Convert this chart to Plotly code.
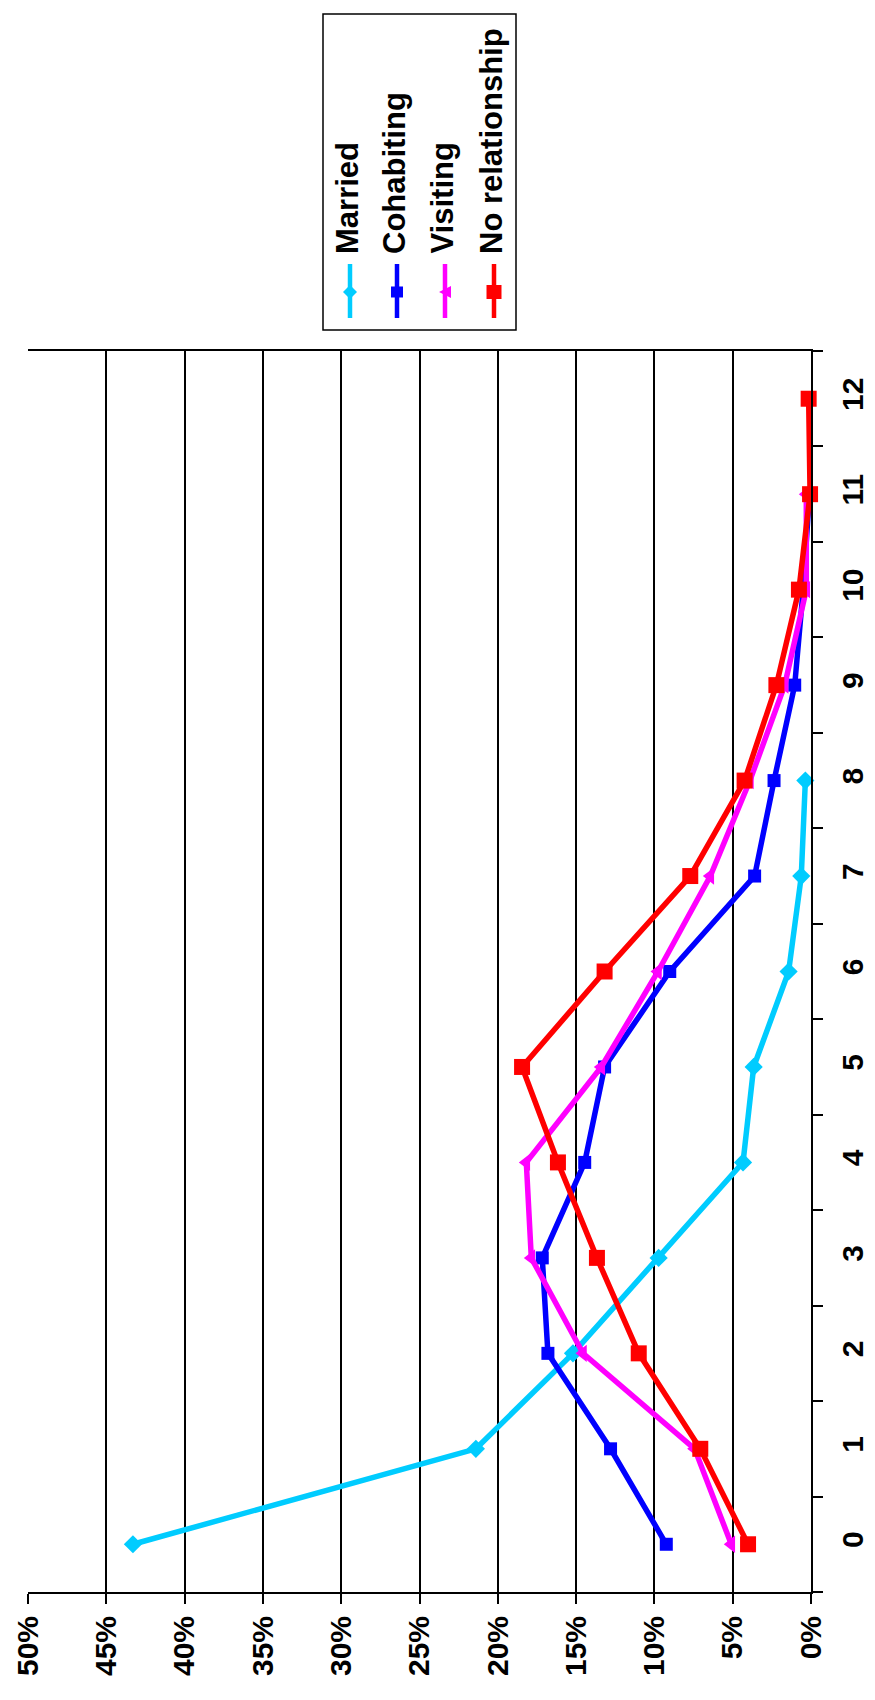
import plotly.graph_objects as go

categories = [str(i) for i in range(13)]
married = [43.3, 21.4, 15.2, 9.73, 4.34, 3.66, 1.43, 0.62, 0.36]
cohabiting = [9.24, 12.8, 16.8, 17.16, 14.45, 13.18, 9.02, 3.6, 2.36, 1.04, 0.5, 0.1]
visiting = [5.09, 7.43, 14.56, 17.86, 18.18, 13.39, 9.77, 6.43, 3.9, 1.68, 0.3, 0.3]
no_relationship = [4.02, 7.07, 11.0, 13.67, 16.16, 18.45, 13.18, 7.71, 4.24, 2.21, 0.77, 0.06, 0.15]
pct_ticks = [0, 5, 10, 15, 20, 25, 30, 35, 40, 45, 50]

series_names = ["Married", "Cohabiting", "Visiting", "No relationship"]
series_values = [married, cohabiting, visiting, no_relationship]
colors = ["#00CCFF", "#0000FF", "#FF00FF", "#FF0000"]
symbols = ["diamond", "square", "triangle-left", "square"]
msizes = [14, 13, 15, 16]

W, H = 875, 1700
FONT = "Liberation Sans, Arial, sans-serif"


def px(x):
    return x / W


def py(y):
    return 1 - y / H


fig = go.Figure()
for name, vals, c, s, ms in zip(series_names, series_values, colors, symbols, msizes):
    fig.add_trace(go.Scatter(
        x=vals, y=categories[:len(vals)], name=name, mode="lines+markers",
        line=dict(color=c, width=5.5),
        marker=dict(symbol=s, size=ms, color=c, line=dict(width=0)),
        cliponaxis=False, showlegend=False,
    ))

# Legend drawn manually (rotated text)
shapes = [dict(type="rect", xref="paper", yref="paper",
               x0=px(315), x1=px(508), y0=py(6), y1=py(322),
               line=dict(color="black", width=1.5), fillcolor="white", layer="above")]
annotations = []
leg_x = [342, 389, 437, 486]
for lx, name, c, s in zip(leg_x, series_names, colors, symbols):
    shapes.append(dict(type="line", xref="paper", yref="paper",
                       x0=px(lx), x1=px(lx), y0=py(256), y1=py(310),
                       line=dict(color=c, width=4.5), layer="above"))
    cy = 284
    if s == "diamond":
        pts = [(lx, cy - 7), (lx + 7, cy), (lx, cy + 7), (lx - 7, cy)]
    elif s == "triangle-left":
        pts = [(lx - 6, cy), (lx + 6, cy - 6), (lx + 6, cy + 6)]
    elif name == "No relationship":
        pts = [(lx - 7.5, cy - 7), (lx + 7.5, cy - 7), (lx + 7.5, cy + 7), (lx - 7.5, cy + 7)]
    else:
        pts = [(lx - 6, cy - 5.5), (lx + 6, cy - 5.5), (lx + 6, cy + 5.5), (lx - 6, cy + 5.5)]
    path = "M " + " L ".join(f"{px(a):.5f},{py(b):.5f}" for a, b in pts) + " Z"
    shapes.append(dict(type="path", xref="paper", yref="paper", path=path,
                       fillcolor=c, line=dict(width=0), layer="above"))
    annotations.append(dict(xref="paper", yref="paper", x=px(lx - 3), y=py(248),
                            xanchor="center", yanchor="bottom", textangle=-90,
                            text=name, showarrow=False,
                            font=dict(family=FONT, size=31, color="black", weight="bold")))

fig.update_layout(
    template="none",
    width=W, height=H,
    margin=dict(l=0, r=0, t=0, b=0, autoexpand=False),
    paper_bgcolor="white", plot_bgcolor="white",
    shapes=shapes, annotations=annotations,
    xaxis=dict(domain=[px(20), px(803)], range=[50, 0], tickvals=pct_ticks,
               ticktext=[f"{v}%" for v in pct_ticks], tickangle=-90, automargin=False,
               showgrid=True, gridcolor="black", gridwidth=1.5, zeroline=False,
               showline=True, linecolor="black", linewidth=2, mirror=True,
               ticks="outside", ticklen=10, tickwidth=1.5, tickcolor="black",
               tickfont=dict(family=FONT, size=30, color="black", weight="bold")),
    yaxis=dict(domain=[py(1584), py(343)], type="category", categoryorder="array",
               categoryarray=categories, range=[-0.5, 12.5], side="right",
               automargin=False, ticklabelstandoff=14,
               tickson="boundaries", ticks="outside", ticklen=10, tickwidth=1.5,
               tickcolor="black", showgrid=False, zeroline=False,
               showline=True, linecolor="black", linewidth=2, tickangle=-90,
               tickfont=dict(family=FONT, size=30, color="black", weight="bold")),
)

fig.write_html("out.html")
